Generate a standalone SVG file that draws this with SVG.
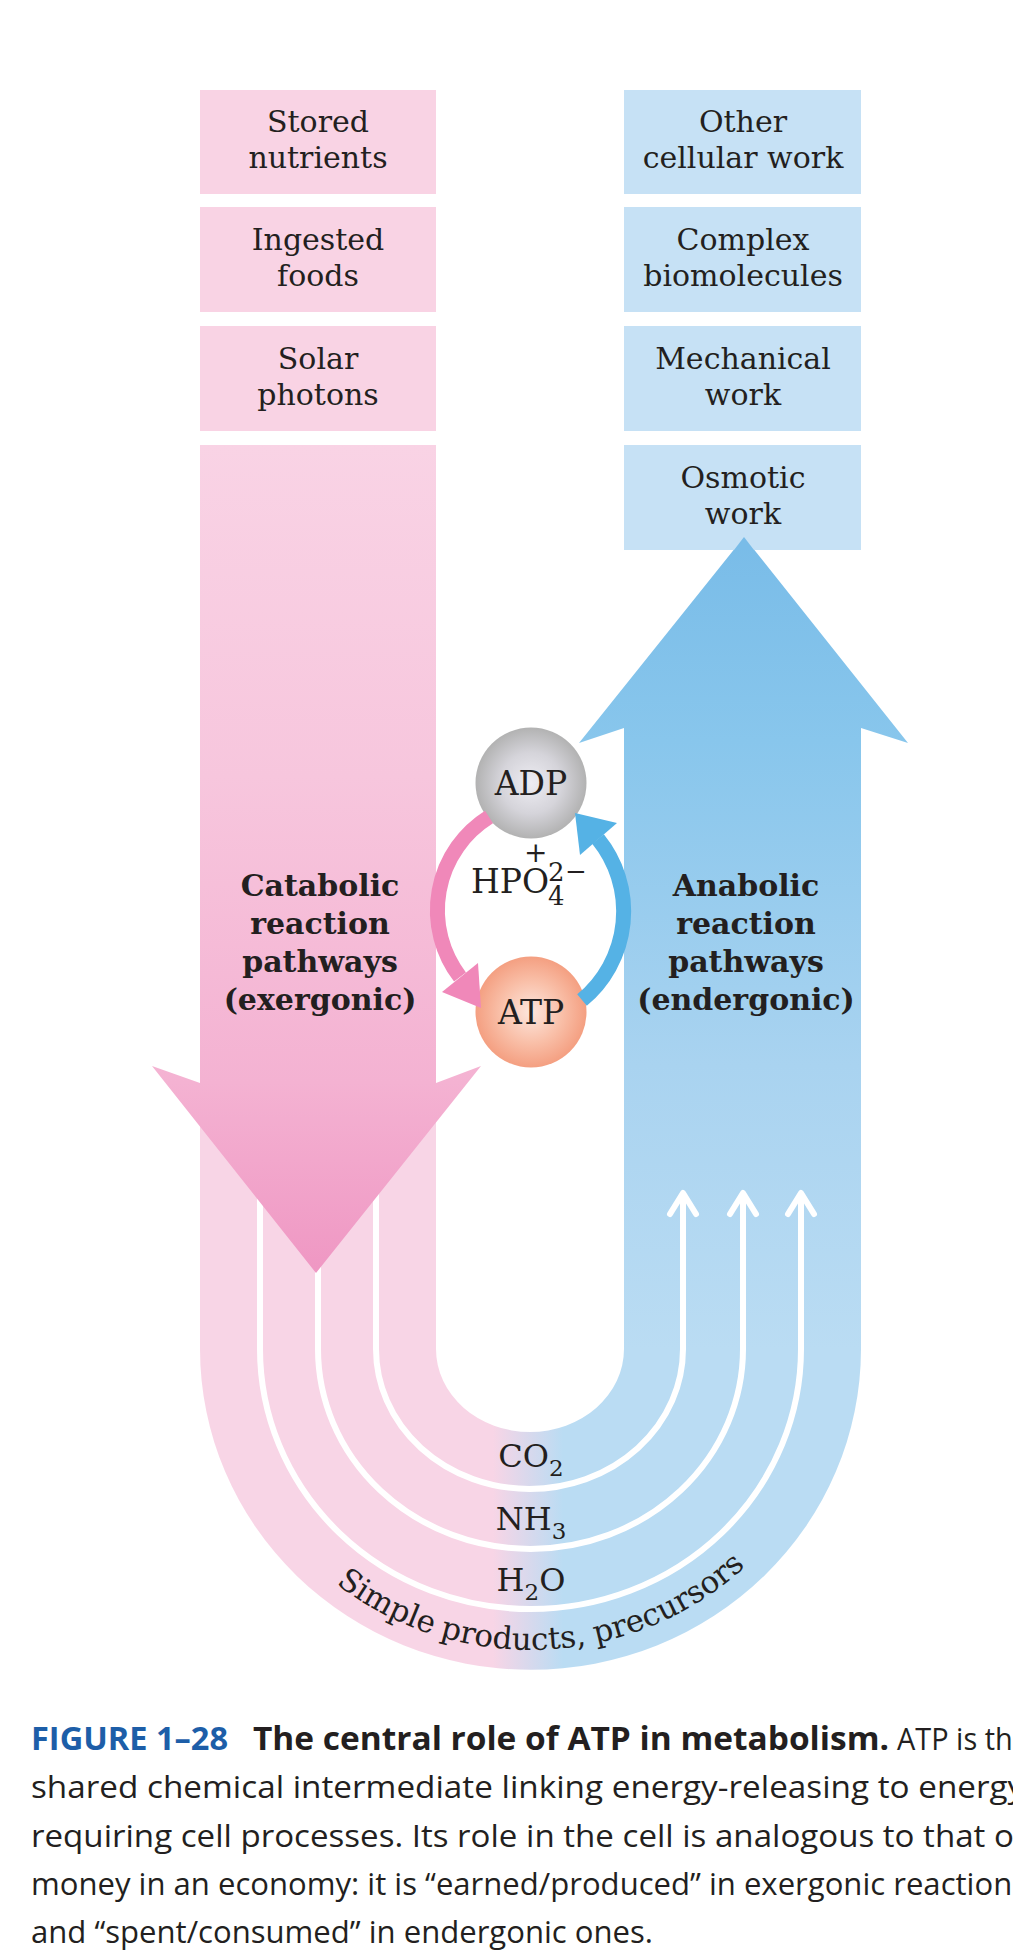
<svg xmlns="http://www.w3.org/2000/svg" width="1013" height="1958" viewBox="0 0 1013 1958">
<style>
.t{font-family:"DejaVu Serif","Liberation Serif",serif;font-size:30px;fill:#231f20;text-anchor:middle}
.b{font-family:"DejaVu Serif","Liberation Serif",serif;font-size:30px;font-weight:bold;fill:#231f20;text-anchor:middle}
.m{font-family:"DejaVu Serif","Liberation Serif",serif;font-size:32px;fill:#231f20;text-anchor:middle}
.arc{font-family:"DejaVu Serif","Liberation Serif",serif;font-size:31px;fill:#231f20}
.pbox{fill:#f9d3e4}
.bbox{fill:#c6e1f5}
.flow{fill:none;stroke:#fff;stroke-width:6;marker-end:url(#chev)}
.cap{font-family:"Open Sans","Noto Sans","DejaVu Sans",sans-serif;font-size:31px;fill:#231f20}
</style>
<defs>
<linearGradient id="pinkArrow" gradientUnits="userSpaceOnUse" x1="0" y1="445" x2="0" y2="1273">
<stop offset="0" stop-color="#f9d3e5"/><stop offset="0.4" stop-color="#f7c6dd"/><stop offset="0.77" stop-color="#f4b2d2"/><stop offset="1" stop-color="#ef97c3"/>
</linearGradient>
<linearGradient id="blueArrow" gradientUnits="userSpaceOnUse" x1="0" y1="537" x2="0" y2="1350">
<stop offset="0" stop-color="#79bce8"/><stop offset="0.25" stop-color="#88c6ec"/><stop offset="0.65" stop-color="#a9d3f0"/><stop offset="1" stop-color="#badcf3"/>
</linearGradient>
<linearGradient id="uGrad" gradientUnits="userSpaceOnUse" x1="200" y1="0" x2="861" y2="0">
<stop offset="0" stop-color="#f8d5e6"/><stop offset="0.443" stop-color="#f8d5e6"/><stop offset="0.549" stop-color="#badcf3"/><stop offset="1" stop-color="#badcf3"/>
</linearGradient>
<radialGradient id="adpGrad" cx="0.5" cy="0.5" r="0.5">
<stop offset="0" stop-color="#eeedf3"/><stop offset="0.55" stop-color="#d5d4da"/><stop offset="1" stop-color="#b2b2b2"/>
</radialGradient>
<radialGradient id="atpGrad" cx="0.5" cy="0.5" r="0.5">
<stop offset="0" stop-color="#fde6dd"/><stop offset="0.55" stop-color="#f9c0a9"/><stop offset="1" stop-color="#f49f81"/>
</radialGradient>
<marker id="chev" markerUnits="userSpaceOnUse" orient="auto" refX="0" refY="0" markerWidth="40" markerHeight="40" overflow="visible">
<path d="M -21 -13 L 0 0 L -21 13" fill="none" stroke="#fff" stroke-width="6" stroke-linecap="round" stroke-linejoin="round"/>
</marker>
<path id="simplePath" d="M 238.3 1451.9 A 311 301 0 0 0 822.7 1451.9"/>
</defs>

<g id="u-channel">
<path d="M 200 1083 V 1349 A 330.5 321 0 0 0 861 1349 V 1340 H 624 V 1349 A 94 83 0 0 1 436 1349 V 1083 Z" fill="url(#uGrad)"/>
</g>

<g id="anabolic-arrow">
<path d="M 744 537 L 908 743 L 861 728 V 1350 H 624 V 728 L 579 743 Z" fill="url(#blueArrow)"/>
<text class="b" x="746" y="896">Anabolic</text>
<text class="b" x="746" y="934">reaction</text>
<text class="b" x="746" y="972">pathways</text>
<text class="b" x="746" y="1010">(endergonic)</text>
</g>

<g id="connectors-flow">
<path class="flow" d="M 260 1100 V 1349 A 270.5 260 0 0 0 801 1349 V 1193"/>
<path class="flow" d="M 318 1100 V 1349 A 212.5 200 0 0 0 743 1349 V 1193"/>
<path class="flow" d="M 376 1100 V 1349 A 153.5 140 0 0 0 683 1349 V 1193"/>
</g>

<g id="catabolic-arrow">
<path d="M 200 445 H 436 V 1083 L 481 1066 L 316 1273 L 152 1066 L 200 1083 Z" fill="url(#pinkArrow)"/>
<text class="b" x="320" y="896">Catabolic</text>
<text class="b" x="320" y="934">reaction</text>
<text class="b" x="320" y="972">pathways</text>
<text class="b" x="320" y="1010">(exergonic)</text>
</g>

<g id="stored-nutrients"><rect class="pbox" x="200" y="90" width="236" height="104"/><text class="t" x="318" y="132">Stored</text><text class="t" x="318" y="168">nutrients</text></g>
<g id="ingested-foods"><rect class="pbox" x="200" y="207" width="236" height="105"/><text class="t" x="318" y="250">Ingested</text><text class="t" x="318" y="286">foods</text></g>
<g id="solar-photons"><rect class="pbox" x="200" y="326" width="236" height="105"/><text class="t" x="318" y="369">Solar</text><text class="t" x="318" y="405">photons</text></g>

<g id="other-cellular-work"><rect class="bbox" x="624" y="90" width="237" height="104"/><text class="t" x="743" y="132">Other</text><text class="t" x="743" y="168">cellular work</text></g>
<g id="complex-biomolecules"><rect class="bbox" x="624" y="207" width="237" height="105"/><text class="t" x="743" y="250">Complex</text><text class="t" x="743" y="286">biomolecules</text></g>
<g id="mechanical-work"><rect class="bbox" x="624" y="326" width="237" height="105"/><text class="t" x="743" y="369">Mechanical</text><text class="t" x="743" y="405">work</text></g>
<g id="osmotic-work"><rect class="bbox" x="624" y="445" width="237" height="105"/><text class="t" x="743" y="488">Osmotic</text><text class="t" x="743" y="524">work</text></g>
<path d="M 744 537 L 754 550 H 734 Z" fill="#79bce8"/>

<g id="adp"><circle cx="531" cy="783" r="55.5" fill="url(#adpGrad)"/><text class="m" x="531" y="795" style="font-size:33px">ADP</text></g>
<g id="atp"><circle cx="531" cy="1012" r="55.5" fill="url(#atpGrad)"/><text class="m" x="531" y="1024" style="font-size:33px">ATP</text></g>

<g id="phosphate">
<text class="m" style="text-anchor:start"><tspan x="524" y="862" style="font-size:28px">+</tspan><tspan x="471" y="893" style="font-size:33px">HPO</tspan><tspan x="548" y="881" style="font-size:26px">2</tspan><tspan x="565" y="880" style="font-size:26px">−</tspan><tspan x="548" y="905" style="font-size:26px">4</tspan></text>
</g>

<g id="connectors-cycle">
<path d="M 489 817 A 110 110 0 0 0 460 977" fill="none" stroke="#f088b9" stroke-width="15"/>
<polygon points="442,992 478,963 481,1008" fill="#f088b9"/>
<path d="M 582 1000 A 115 115 0 0 0 598 839" fill="none" stroke="#55b2e5" stroke-width="15"/>
<polygon points="575,813 580,855 617,823" fill="#55b2e5"/>
</g>

<g id="products">
<text class="m" x="531" y="1467">CO<tspan dy="9" style="font-size:23px">2</tspan></text>
<text class="m" x="531" y="1530">NH<tspan dy="9" style="font-size:23px">3</tspan></text>
<text class="m" x="531" y="1591">H<tspan dy="9" style="font-size:23px">2</tspan><tspan dy="-9">O</tspan></text>
<text class="arc"><textPath href="#simplePath" startOffset="166">Simple</textPath></text>
<text class="arc"><textPath href="#simplePath" startOffset="283">products,</textPath></text>
<text class="arc"><textPath href="#simplePath" startOffset="441">precursors</textPath></text>
</g>

<g id="caption">
<text class="cap" x="31" y="1750" style="font-weight:bold;fill:#1d5ea8;font-size:32px" textLength="197" lengthAdjust="spacingAndGlyphs">FIGURE 1–28</text>
<text class="cap" x="253" y="1750" style="font-weight:bold;font-size:32px" textLength="636" lengthAdjust="spacingAndGlyphs">The central role of ATP in metabolism.</text>
<text class="cap" x="897" y="1750" textLength="132" lengthAdjust="spacingAndGlyphs">ATP is the</text>
<text class="cap" x="31" y="1798" textLength="1004" lengthAdjust="spacingAndGlyphs">shared chemical intermediate linking energy-releasing to energy-</text>
<text class="cap" x="31" y="1847" textLength="994" lengthAdjust="spacingAndGlyphs">requiring cell processes. Its role in the cell is analogous to that of</text>
<text class="cap" x="31" y="1895" textLength="996" lengthAdjust="spacingAndGlyphs">money in an economy: it is “earned/produced” in exergonic reactions</text>
<text class="cap" x="31" y="1943" textLength="622" lengthAdjust="spacingAndGlyphs">and “spent/consumed” in endergonic ones.</text>
</g>
</svg>
